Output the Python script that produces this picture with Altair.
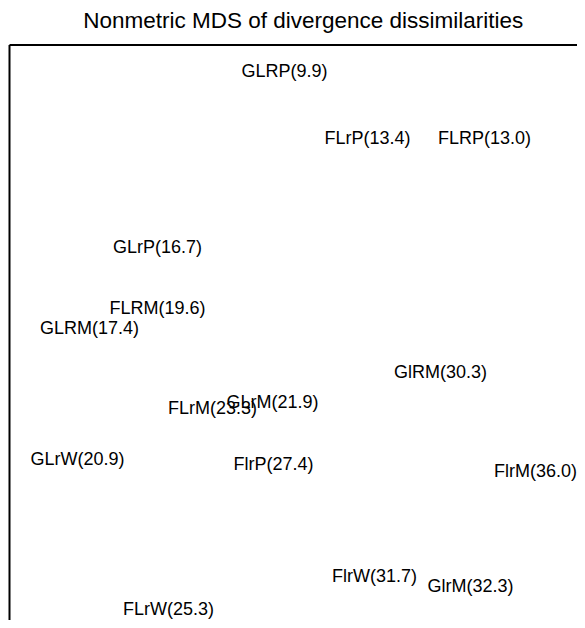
import altair as alt
import pandas as pd

labels = ["GLRP(9.9)", "FLrP(13.4)", "FLRP(13.0)", "GLrP(16.7)", "FLRM(19.6)",
          "GLRM(17.4)", "GlRM(30.3)", "GLrM(21.9)", "FLrM(23.3)", "GLrW(20.9)",
          "FlrP(27.4)", "FlrM(36.0)", "FlrW(31.7)", "GlrM(32.3)", "FLrW(25.3)"]
coord1 = [-0.45, 0.38, 1.55, -1.72, -1.72, -2.40, 1.11, -0.57, -1.17, -2.52,
          -0.56, 2.06, 0.45, 1.41, -1.61]
coord2 = [2.93, 2.26, 2.26, 1.17, 0.56, 0.36, -0.08, -0.38, -0.44, -0.95,
          -1.00, -1.07, -2.12, -2.22, -2.45]

W, H = 567.5, 575
df = pd.DataFrame({"label": labels, "x": coord1, "y": coord2})

xs = alt.Scale(domain=[-3.2, 2.475], nice=False, zero=False)
ys = alt.Scale(domain=[-2.55, 3.2], nice=False, zero=False)

text = alt.Chart(df).mark_text(
    font="Liberation Sans", fontSize=18, color="black",
    align="center", baseline="middle", clip=False
).encode(
    x=alt.X("x:Q", scale=xs, axis=None),
    y=alt.Y("y:Q", scale=ys, axis=None),
    text="label:N",
)

frame_data = alt.Data(values=[{"k": 1}])
left_edge = alt.Chart(frame_data).mark_rule(color="black", strokeWidth=2).encode(
    x=alt.value(0), y=alt.value(0), y2=alt.value(H)
)
top_edge = alt.Chart(frame_data).mark_rule(color="black", strokeWidth=2).encode(
    y=alt.value(0), x=alt.value(0), x2=alt.value(W)
)

chart = alt.layer(text, left_edge, top_edge).properties(
    width=W, height=H,
    title=alt.TitleParams(
        "Nonmetric MDS of divergence dissimilarities",
        font="Liberation Sans", fontSize=22.5, fontWeight="normal", color="black",
        anchor="middle", dx=10, offset=12,
    ),
    padding={"left": 1.5, "top": 37, "right": 0, "bottom": 0},
    autosize=alt.AutoSizeParams(type="none"),
    background="white",
).configure_view(stroke=None)

chart.save("out.html", embed_options={"renderer": "svg", "actions": False})
